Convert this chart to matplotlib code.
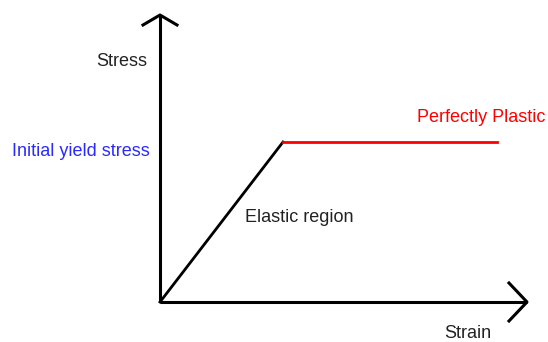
import matplotlib
matplotlib.use("Agg")
import matplotlib.pyplot as plt

# stress-strain curve points (pixel-like units, y grows downward)
elastic_x = [160, 283]
elastic_y = [302, 142]
plastic_x = [283, 497]
plastic_y = [142, 142]

# axes
yaxis_x = [160, 160]
yaxis_y = [302, 15]
xaxis_x = [160, 527]
xaxis_y = [302, 302]

fig = plt.figure(figsize=(5.48, 3.42), dpi=100)
ax = fig.add_axes([0, 0, 1, 1])
ax.set_xlim(0, 548)
ax.set_ylim(342, 0)
ax.axis("off")

ax.plot(yaxis_x, yaxis_y, color="black", lw=2.2, solid_capstyle="butt")
ax.plot(xaxis_x, xaxis_y, color="black", lw=2.2, solid_capstyle="butt")
# arrow heads
ax.plot([143, 160, 177], [25, 15, 25], color="black", lw=2.2)
ax.plot([509, 527, 509], [283, 302, 321], color="black", lw=2.2)

ax.plot(elastic_x, elastic_y, color="black", lw=2)
ax.plot(plastic_x, plastic_y, color="red", lw=2)

fs = 13
fam = ["Liberation Sans", "DejaVu Sans"]
ax.text(122, 62, "Stress", fontsize=fs, color="#222222", ha="center", va="center", family=fam)
ax.text(12, 151, "Initial yield stress", fontsize=fs, color="#2a2aff", ha="left", va="center", family=fam)
ax.text(417, 117, "Perfectly Plastic", fontsize=fs, color="red", ha="left", va="center", family=fam)
ax.text(245, 218, "Elastic region", fontsize=fs, color="#222222", ha="left", va="center", family=fam)
ax.text(444, 333, "Strain", fontsize=fs, color="#222222", ha="left", va="center", family=fam)

plt.savefig("out.png", dpi=100)
